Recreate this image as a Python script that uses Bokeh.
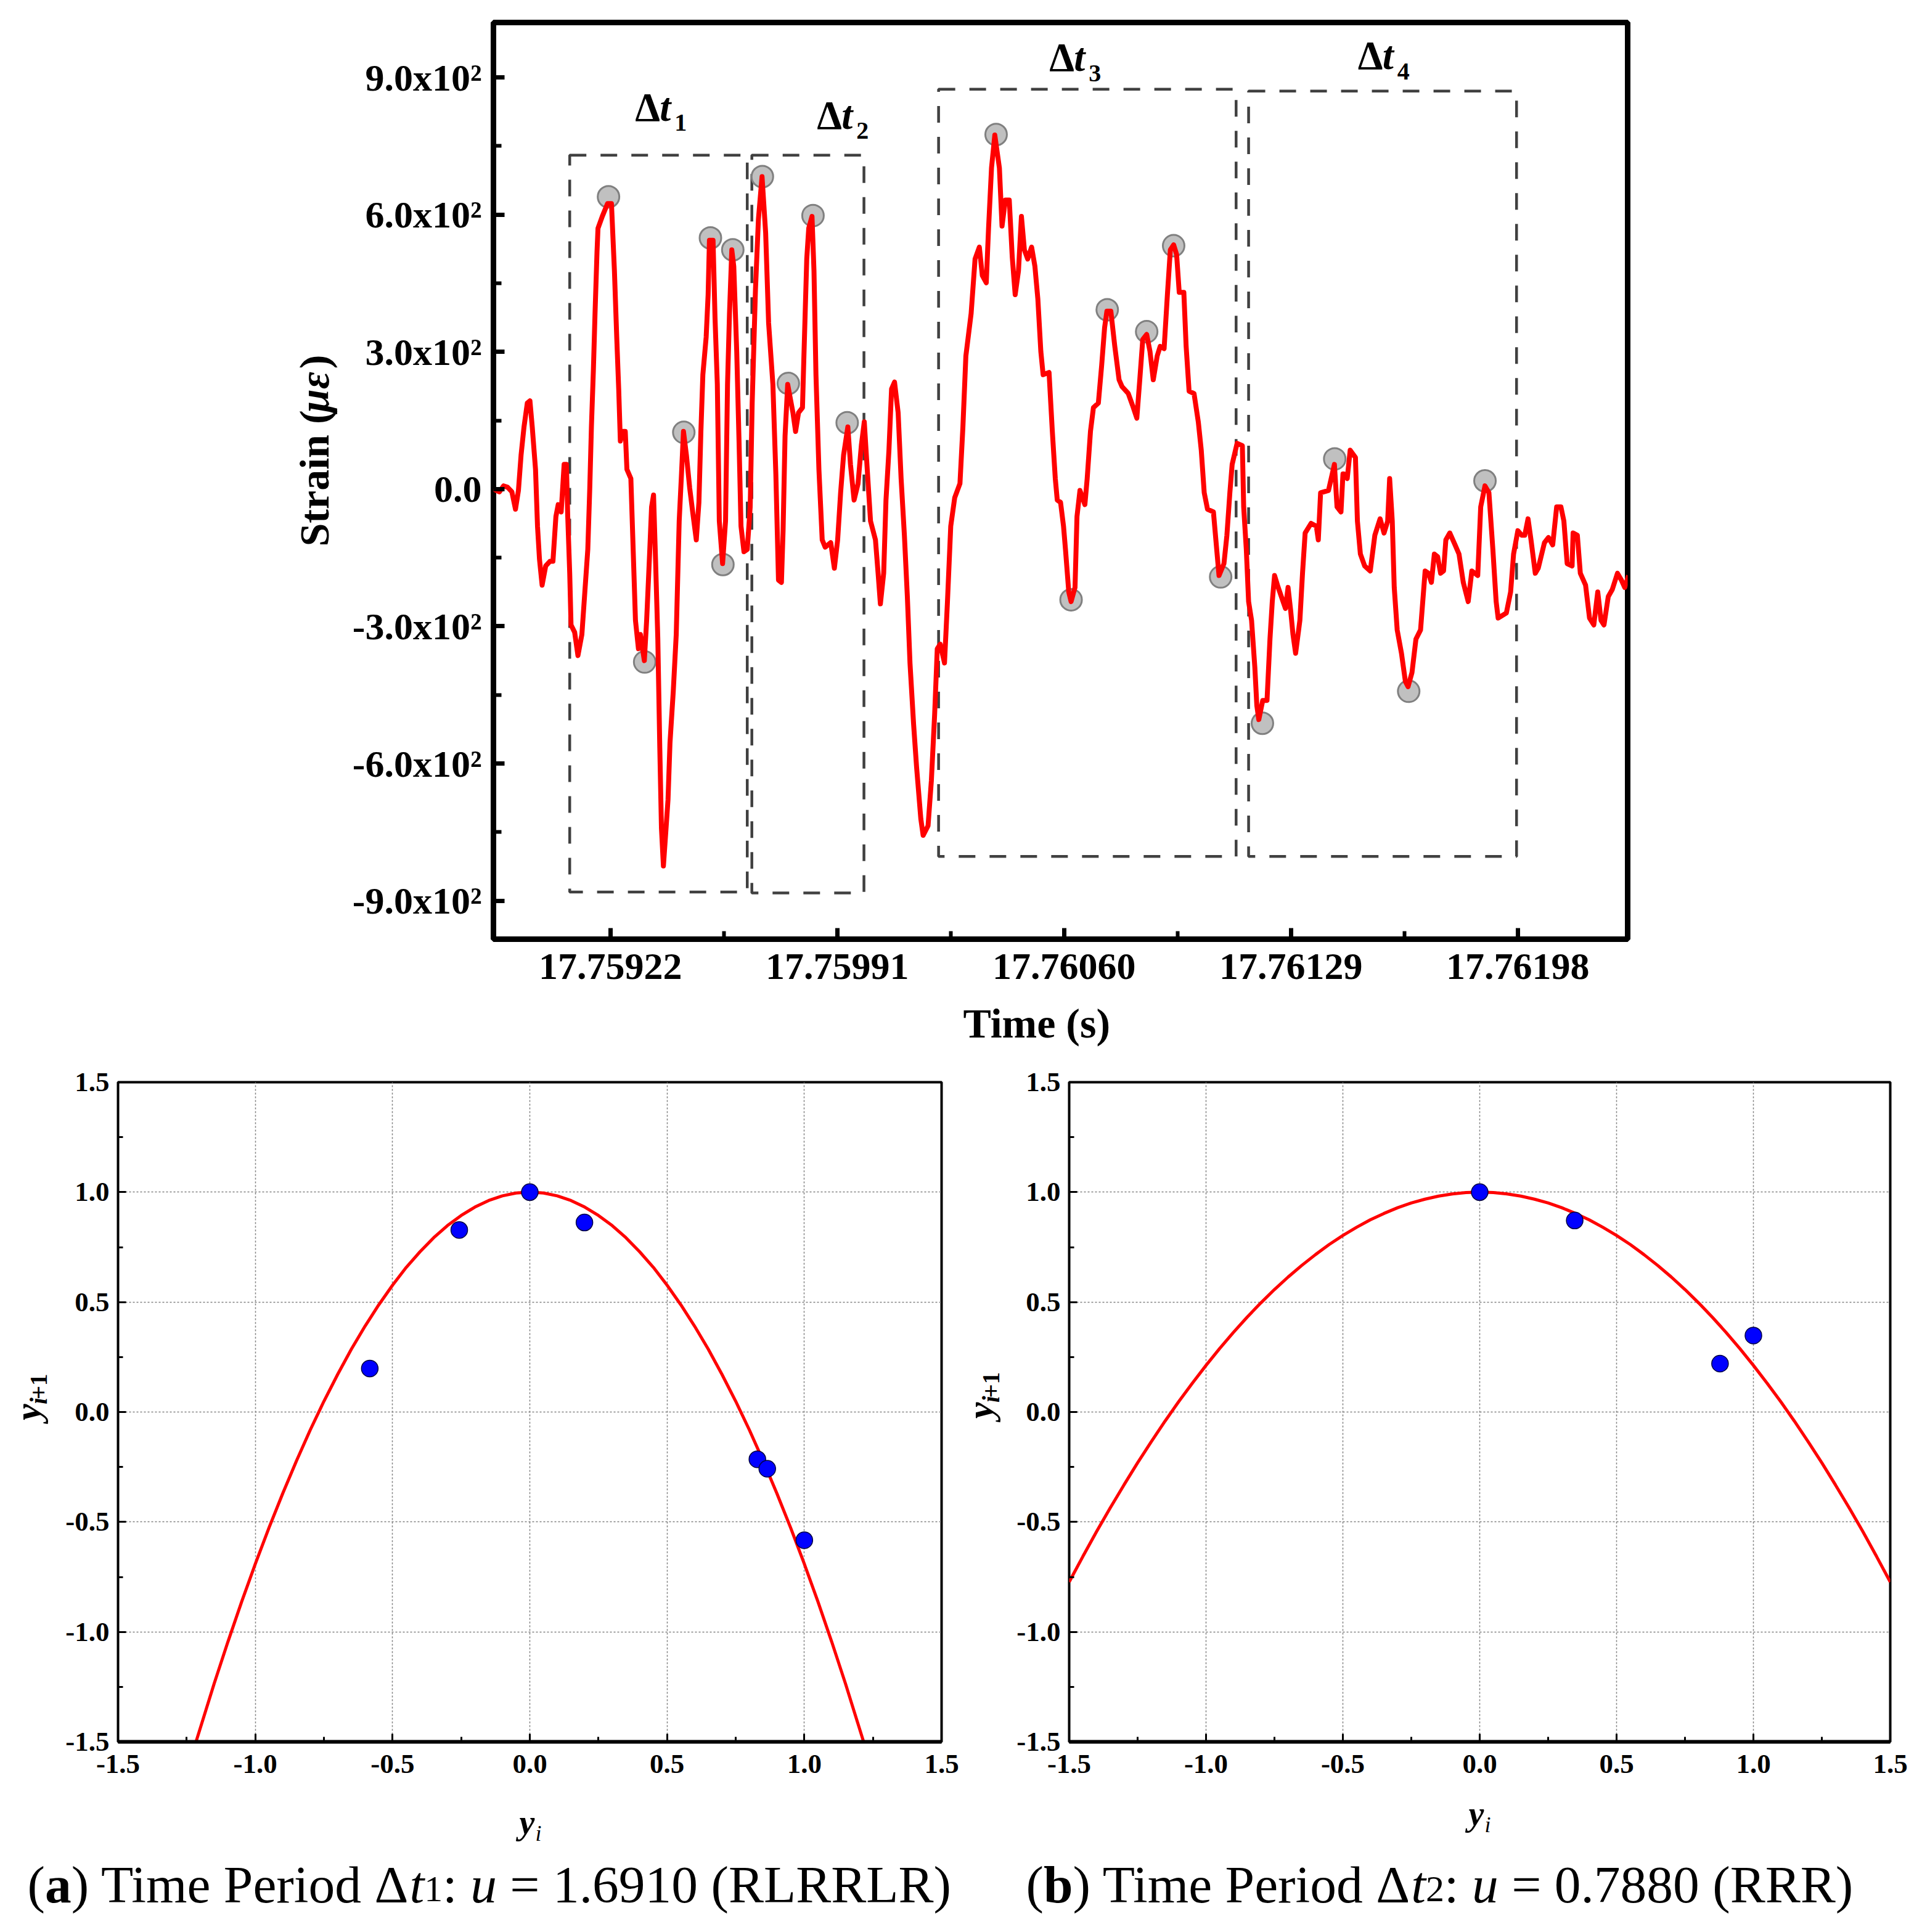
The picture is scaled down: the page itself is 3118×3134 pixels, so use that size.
from bokeh.plotting import figure
from bokeh.layouts import column, row
from bokeh.models import Range1d, FixedTicker, NumeralTickFormatter
from bokeh.core.properties import value
from bokeh.embed import file_html
from bokeh.resources import INLINE

FONT = "Liberation Serif"
T0 = 17.75922

# Strain trace: time offset from T0 (in 1e-5 s) and strain (micro-strain)
trace_off = [-35.6,-33.8,-32.5,-31.3,-30.0,-28.9,-28.0,-27.2,-26.3,-25.3,-24.5,-23.8,-22.8,-22.2,-21.6,-20.8,-19.7,-18.4,-17.5,-16.6,-15.9,-15.0,-14.1,-13.4,-13.0,-12.4,-12.0,-10.9,-9.9,-8.7,-7.8,-6.9,-6.3,-5.8,-5.2,-4.7,-4.1,-3.8,-2.5,-0.9,0.3,1.2,1.9,2.5,3.0,3.8,4.5,5.0,6.2,6.9,7.6,8.5,9.1,10.3,11.0,11.9,12.5,13.1,13.7,14.4,15.0,15.5,16.1,16.8,17.5,18.1,19.1,20.0,20.9,21.6,22.2,23.1,24.1,25.0,26.1,26.9,27.5,28.1,29.1,29.7,30.1,31.2,31.8,32.5,33.1,34.1,35.0,35.6,36.2,36.9,37.5,38.4,39.1,39.7,40.6,41.6,42.5,43.1,44.1,45.0,46.1,47.2,48.1,49.4,50.3,51.1,52.0,52.5,53.1,53.9,54.7,55.5,56.3,57.2,58.4,58.8,59.7,60.3,61.3,61.9,62.5,63.4,64.4,65.3,67.0,68.1,69.1,70.0,70.9,72.2,73.0,74.1,75.3,76.3,77.2,78.1,79.1,80.6,81.4,82.1,83.1,83.8,84.7,85.5,86.4,87.5,88.4,89.4,90.3,91.1,92.2,93.1,94.4,95.1,96.6,97.6,98.6,99.4,100.3,101.6,102.5,103.5,104.7,106.3,107.2,108.1,109.7,110.9,112.2,113.1,114.3,115.0,115.9,116.9,118.3,119.1,120.1,121.3,122.2,123.1,124.1,125.0,125.9,126.9,128.1,129.1,130.0,130.9,131.6,133.4,134.4,135.3,135.9,136.9,137.8,138.4,139.4,140.1,141.3,141.9,142.8,144.3,145.0,146.0,146.9,148.4,149.4,150.3,151.0,152.2,153.4,154.7,155.6,157.5,158.8,160.1,161.0,161.9,163.1,164.1,165.1,166.3,167.2,168.4,169.4,170.3,171.3,172.2,173.0,174.4,175.1,176.0,177.5,178.8,179.7,180.6,181.6,183.4,184.4,185.1,186.6,187.5,188.4,189.1,190.6,192.2,192.6,193.4,194.1,195.0,196.0,196.6,197.2,198.4,199.7,200.6,201.3,202.0,203.1,205.3,206.1,206.9,207.6,208.4,209.7,210.5,211.3,213.1,214.7,215.3,216.0,218.4,220.2,221.0,222.2,222.8,223.1,224.1,225.0,226.6,227.2,228.1,229.4,231.1,232.5,234.1,235.3,236.4,237.0,237.8,238.4,239.3,240.6,241.8,242.6,243.8,245.0,246.4,247.8,248.8,249.7,250.6,251.6,252.5,253.4,254.1,255.3,256.9,258.1,259.4,260.9,262.0,263.8,264.7,266.0,267.2,268.4,269.4,270.0,272.5,273.8,274.7,276.0,277.2,278.1,279.1,280.0,281.3,282.2,284.1,285.3,286.6,287.8,289.1,290.0,291.0,292.5,292.8,294.1,295.0,296.6,297.8,299.1,300.3,301.3,302.2,303.5,304.7,306.3,307.5,308.5,309.7]
trace_strain = [0,-6,7,4,-6,-44,-3,74,136,188,193,136,43,-81,-153,-210,-168,-158,-158,-60,-34,-50,54,54,-60,-184,-297,-313,-364,-318,-225,-132,2,136,260,384,518,570,596,624,624,477,332,219,105,126,126,43,23,-132,-287,-349,-318,-375,-287,-142,-39,-13,-153,-328,-566,-741,-824,-752,-679,-555,-442,-318,-70,33,126,74,2,-50,-111,-29,126,250,332,425,544,544,374,229,-70,-163,-70,229,384,523,487,301,105,-81,-137,-132,-39,188,436,590,683,560,363,229,33,-199,-204,-91,116,229,198,167,126,167,178,281,503,570,596,477,250,43,-111,-127,-117,-173,-111,-8,74,136,54,-24,12,95,147,43,-70,-111,-184,-251,-184,-24,85,219,234,167,23,-101,-235,-380,-514,-607,-721,-757,-736,-638,-493,-349,-339,-380,-246,-81,-19,12,136,291,384,503,529,467,451,570,702,774,702,575,632,632,508,425,477,596,523,503,529,487,415,301,250,255,126,23,-24,-29,-81,-132,-225,-246,-215,-60,-3,-34,23,126,178,188,270,353,389,389,312,239,224,209,183,155,239,327,338,301,239,291,312,307,425,523,534,513,430,430,312,214,209,147,85,-8,-44,-50,-132,-189,-163,-101,-8,54,100,95,-39,-132,-246,-287,-390,-473,-504,-462,-462,-328,-246,-189,-215,-261,-215,-266,-318,-359,-287,-184,-96,-75,-81,-111,-8,-3,54,-39,-50,33,33,23,85,69,-70,-142,-168,-179,-101,-65,-96,-70,23,-70,-215,-308,-359,-421,-432,-401,-328,-308,-179,-184,-204,-142,-148,-184,-179,-111,-96,-122,-142,-204,-246,-179,-189,-39,7,-8,-132,-246,-282,-271,-225,-142,-91,-101,-101,-65,-111,-184,-173,-117,-106,-122,-39,-39,-70,-163,-168,-96,-101,-184,-210,-282,-297,-225,-287,-297,-235,-220,-184,-199,-215,-189]

# Highlighted extrema
peak_off = [-0.6,30.4,37.2,46.2,22.3,34.2,10.4,61.6,54.1,72.0,117.3,140.1,151.1,163.1,171.3,185.6,198.3,220.3,242.8,266.0]
peak_strain = [639,549,523,683,124,-165,-378,598,231,145,775,-242,392,344,532,-192,-512,66,-442,18]

# Time-period boxes and their labels
box_left = [-12.4,43.0,99.8,194.1]
box_right = [41.6,77.1,190.3,275.6]
box_top = [730,730,874,870]
box_bottom = [-881,-883,-803,-803]
period_off = [7.5,62.8,133.5,227.3]
period_strain = [809,791,917,921]
period_sub = ["1","2","3","4"]

strain_ticks = [-900,-600,-300,0,300,600,900]
strain_minor = [-750,-450,-150,150,450,750]
strain_labels = ["-9.0x10²","-6.0x10²","-3.0x10²","0.0","3.0x10²","6.0x10²","9.0x10²"]
time_ticks = [17.75922,17.75991,17.76060,17.76129,17.76198]
time_minor = [17.759565,17.760255,17.760945,17.761635]

unit_ticks = [-1.5,-1.0,-0.5,0.0,0.5,1.0,1.5]
unit_minor = [-1.25,-0.75,-0.25,0.25,0.75,1.25]

# Panel (a): return map
a_curve_x = [-1.216,-1.15,-1.1,-1.05,-1.0,-0.95,-0.9,-0.85,-0.8,-0.75,-0.7,-0.65,-0.6,-0.55,-0.5,-0.45,-0.4,-0.35,-0.3,-0.25,-0.2,-0.15,-0.1,-0.05,0.0,0.05,0.1,0.15,0.2,0.25,0.3,0.35,0.4,0.45,0.5,0.55,0.6,0.65,0.7,0.75,0.8,0.85,0.9,0.95,1.0,1.05,1.1,1.15,1.216]
a_curve_y = [-1.5,-1.236,-1.046,-0.864,-0.691,-0.526,-0.370,-0.222,-0.082,0.049,0.171,0.286,0.391,0.488,0.577,0.658,0.729,0.793,0.848,0.894,0.932,0.962,0.983,0.996,1.0,0.996,0.983,0.962,0.932,0.894,0.848,0.793,0.729,0.658,0.577,0.488,0.391,0.286,0.171,0.049,-0.082,-0.222,-0.370,-0.526,-0.691,-0.864,-1.046,-1.236,-1.5]
a_pts_x = [-0.583,-0.257,0.0,0.199,0.829,0.865,1.0]
a_pts_y = [0.198,0.828,1.0,0.862,-0.215,-0.258,-0.583]

# Panel (b): return map
b_curve_x = [-1.5,-1.45,-1.4,-1.35,-1.3,-1.25,-1.2,-1.15,-1.1,-1.05,-1.0,-0.95,-0.9,-0.85,-0.8,-0.75,-0.7,-0.65,-0.6,-0.55,-0.5,-0.45,-0.4,-0.35,-0.3,-0.25,-0.2,-0.15,-0.1,-0.05,0.0,0.05,0.1,0.15,0.2,0.25,0.3,0.35,0.4,0.45,0.5,0.55,0.6,0.65,0.7,0.75,0.8,0.85,0.9,0.95,1.0,1.05,1.1,1.15,1.2,1.25,1.3,1.35,1.4,1.45,1.5]
b_curve_y = [-0.773,-0.657,-0.544,-0.436,-0.332,-0.231,-0.135,-0.042,0.047,0.131,0.212,0.289,0.362,0.431,0.496,0.557,0.614,0.667,0.716,0.762,0.803,0.840,0.874,0.903,0.929,0.951,0.968,0.982,0.992,0.998,1.0,0.998,0.992,0.982,0.968,0.951,0.929,0.903,0.874,0.840,0.803,0.762,0.716,0.667,0.614,0.557,0.496,0.431,0.362,0.289,0.212,0.131,0.047,-0.042,-0.135,-0.231,-0.332,-0.436,-0.544,-0.657,-0.773]
b_pts_x = [0.0,0.347,0.878,1.0]
b_pts_y = [1.0,0.871,0.22,0.348]


def tm(off):
    return [T0 + o * 1e-5 for o in off]


def put(fig, x, y, text, size, style="normal", angle=0, dx=0, dy=0):
    # the baseline lands 0.3 em past the anchor; pull it back
    if angle:
        dx -= 0.3 * size
    else:
        dy -= 0.3 * size
    fig.text(x=[x], y=[y], text=[text], text_font=value(FONT), text_font_size=f"{size}px",
             text_font_style=style, text_color="black", text_baseline="alphabetic",
             text_align="left", angle=angle, angle_units="deg", x_offset=dx, y_offset=dy)


def strip(x0, y0, w, h):
    """A blank text band whose data range equals its place on the page."""
    s = figure(width=w, height=h, output_backend="svg", toolbar_location=None,
               x_range=Range1d(x0, x0 + w), y_range=Range1d(y0 + h, y0),
               x_axis_location=None, y_axis_location=None,
               min_border_left=0, min_border_right=0, min_border_top=0, min_border_bottom=0)
    s.grid.visible = False
    s.outline_line_color = None
    return s


# ---------- top panel ----------
top = figure(width=2140, height=1620, output_backend="svg", toolbar_location=None,
             x_range=Range1d(T0 - 35.6e-5, T0 + 309.4e-5), y_range=Range1d(-984, 1020),
             min_border_left=240, min_border_right=60, min_border_top=36, min_border_bottom=97)
top.grid.visible = False
top.outline_line_color = "black"
top.outline_line_width = 9
top.outline_line_alpha = 1
xa, ya = top.xaxis[0], top.yaxis[0]
xa.ticker = FixedTicker(ticks=time_ticks, minor_ticks=time_minor)
xa.formatter = NumeralTickFormatter(format="0.00000")
ya.ticker = FixedTicker(ticks=strain_ticks, minor_ticks=strain_minor)
ya.major_label_overrides = dict(zip(strain_ticks, strain_labels))
for ax in (xa, ya):
    ax.axis_line_color = None
    ax.major_tick_in = 18
    ax.major_tick_out = 0
    ax.minor_tick_in = 13
    ax.minor_tick_out = 0
    ax.major_tick_line_width = 7
    ax.minor_tick_line_width = 6
    ax.major_tick_line_color = "black"
    ax.minor_tick_line_color = "black"
    ax.major_label_text_font = FONT
    ax.major_label_text_font_style = "bold"
    ax.major_label_text_font_size = "62px"
    ax.major_label_text_color = "black"
xa.major_label_standoff = 24
ya.major_label_standoff = 19

top.quad(left=tm(box_left), right=tm(box_right), top=box_top, bottom=box_bottom,
         fill_color=None, line_color="#404040", line_width=4.5, line_dash="27 23")
top.scatter(tm(peak_off), peak_strain, size=35, marker="circle", fill_color="#c0c0c0",
            line_color="#808080", line_width=3)
top.line(tm(trace_off), trace_strain, line_color="#ff0000", line_width=8, line_join="round")

for off, v, n in zip(period_off, period_strain, period_sub):
    tx = T0 + off * 1e-5
    put(top, tx, v, "Δ", 65, "bold")
    put(top, tx, v, "t", 65, "bold italic", dx=40)
    put(top, tx, v, n, 40, "bold", dx=64, dy=18)

left_strip = strip(0, 0, 560, 1620)
put(left_strip, 530, 926, "Strain (", 68, "bold", 90)
put(left_strip, 530, 689, "με", 68, "bold italic", 90)
put(left_strip, 530, 612, ")", 68, "bold", 90)

time_strip = strip(0, 1620, 2700, 80)
put(time_strip, 1562, 1680, "Time (s)", 68, "bold")


# ---------- bottom panels ----------
def panel(width, height, mleft, mright, mtop, mbottom, cx, cy, px, py):
    p = figure(width=width, height=height, output_backend="svg", toolbar_location=None,
               x_range=Range1d(-1.5, 1.5), y_range=Range1d(-1.5, 1.5),
               min_border_left=mleft, min_border_right=mright,
               min_border_top=mtop, min_border_bottom=mbottom)
    p.outline_line_color = "black"
    p.outline_line_width = 4
    p.outline_line_alpha = 1
    for g in p.grid:
        g.ticker = FixedTicker(ticks=unit_ticks)
        g.grid_line_color = "#808080"
        g.grid_line_width = 1.5
        g.grid_line_dash = "3 3"
    for ax in (p.xaxis[0], p.yaxis[0]):
        ax.ticker = FixedTicker(ticks=unit_ticks, minor_ticks=unit_minor)
        ax.formatter = NumeralTickFormatter(format="0.0")
        ax.major_tick_in = 13
        ax.major_tick_out = 0
        ax.minor_tick_in = 8
        ax.minor_tick_out = 0
        ax.major_tick_line_width = 3
        ax.minor_tick_line_width = 3
        ax.major_tick_line_color = "black"
        ax.minor_tick_line_color = "black"
        ax.major_label_text_font = FONT
        ax.major_label_text_font_style = "bold"
        ax.major_label_text_font_size = "45px"
        ax.major_label_text_color = "black"
        ax.major_label_standoff = 14
    p.xaxis[0].major_label_standoff = 21
    p.yaxis[0].axis_line_color = None
    p.xaxis[0].axis_line_color = "black"
    p.xaxis[0].axis_line_width = 6
    p.line(cx, cy, line_color="#ff0000", line_width=5)
    p.scatter(px, py, size=27, marker="circle", fill_color="#0000ff", line_color="#000040", line_width=1.5)
    return p


pa = panel(1470, 1233, 101, 33, 55, 99, a_curve_x, a_curve_y, a_pts_x, a_pts_y)
pb = panel(1466, 1233, 94, 40, 53, 108, b_curve_x, b_curve_y, b_pts_x, b_pts_y)

strip_a = strip(0, 1700, 90, 1233)
put(strip_a, 62, 2332, "y", 60, "bold italic", 90)
put(strip_a, 74, 2302, "i", 39, "bold italic", 90)
put(strip_a, 74, 2293, "+1", 39, "bold", 90)

strip_b = strip(1560, 1700, 80, 1233)
put(strip_b, 1607, 2329, "y", 60, "bold italic", 90)
put(strip_b, 1619, 2299, "i", 39, "bold italic", 90)
put(strip_b, 1619, 2290, "+1", 39, "bold", 90)

cap = strip(0, 2933, 3106, 177)
F = 85.5
# panel (a) texts
put(cap, 842, 2972, "y", 56, "bold italic")
put(cap, 868, 2984, "i", 36, "italic")
X = 44
put(cap, X, 3082, "(", F)
put(cap, X + 0.333 * F, 3082, "a", F, "bold")
put(cap, X + 0.833 * F, 3082, ") Time Period Δ", F)
put(cap, X + 7.25 * F, 3082, "t", F, "italic")
put(cap, X + 7.528 * F, 3082, "1", 60)
put(cap, X + 7.878 * F, 3082, ":", F)
put(cap, X + 8.406 * F, 3082, "u", F, "italic")
put(cap, X + 9.156 * F, 3082, "= 1.6910 (RLRRLR)", F)
# panel (b) texts
put(cap, 2382, 2958, "y", 56, "bold italic")
put(cap, 2408, 2970, "i", 36, "italic")
X = 1664
put(cap, X, 3082, "(", F)
put(cap, X + 0.333 * F, 3082, "b", F, "bold")
put(cap, X + 0.889 * F, 3082, ") Time Period Δ", F)
put(cap, X + 7.306 * F, 3082, "t", F, "italic")
put(cap, X + 7.584 * F, 3082, "2", 60)
put(cap, X + 7.934 * F, 3082, ":", F)
put(cap, X + 8.462 * F, 3082, "u", F, "italic")
put(cap, X + 9.212 * F, 3082, "= 0.7880 (RRR)", F)

page = column(row(left_strip, top, spacing=0),
              time_strip,
              row(strip_a, pa, strip_b, pb, spacing=0),
              cap, spacing=0)
open("out.html", "w").write(file_html(page, INLINE))
